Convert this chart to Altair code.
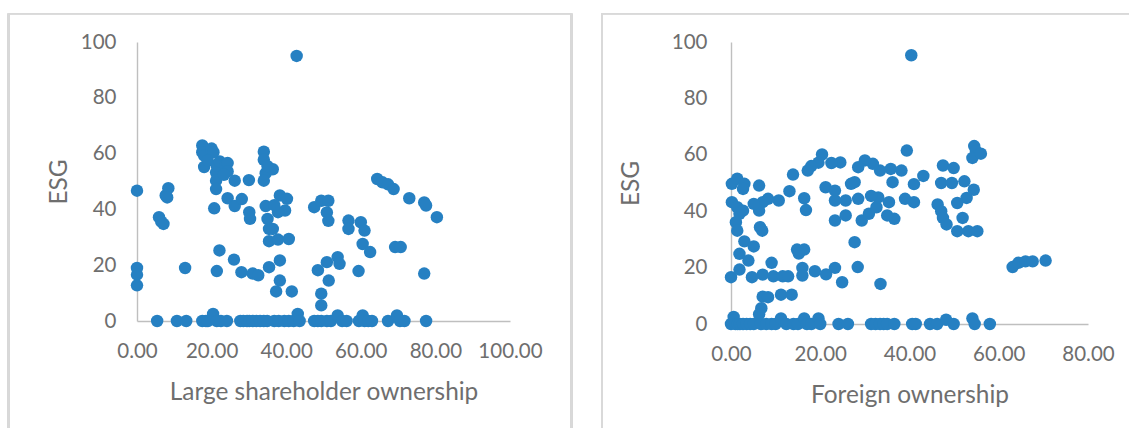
import altair as alt
import pandas as pd

# Left panel: Large shareholder ownership vs ESG
large_x = [42.8, 0, 0, 0, 0, 5.9, 6.5, 7.1, 7.7, 8.4, 8.1, 12.9,
           17.5, 17.5, 18, 18, 20, 20.5, 19, 21.2, 21.2, 21.2, 21.4, 20.7, 22.1, 21.4,
           22.2, 23.7, 24.3, 24.3, 23.3, 24.3, 26.2, 28.1, 26.2, 26, 28, 30, 30.1, 30.3,
           31, 32.5, 34, 34, 34.5, 34, 36.4, 35, 34.5, 35, 35.4, 36.4, 35.4, 35.4, 37.8,
           40.7, 38.3, 38.3, 37.3, 38.3, 40.2, 39.7, 37.8, 36.8, 41.5, 47.5, 49.4, 51.3,
           50.9, 51.3, 48.5, 50.9, 53.8, 54.3, 51.4, 49.4, 49.4, 56.7, 56.7, 60, 61, 60.5,
           62.5, 59.4, 64.4, 65.8, 67.3, 68.8, 73, 77, 77.5, 80.4, 69.2, 70.7, 77,
           5.4, 10.7, 13.2, 17.5, 18.5, 19, 20.4, 21.4, 22.5, 24.1, 27.7, 28.5, 29.5, 30.1,
           31, 32, 33, 34, 34.9, 36.8, 38, 39.5, 40.7, 42, 43.1, 43.6, 47.5, 48.5, 49.4,
           50.9, 52, 53.8, 55, 56.2, 59.5, 60.5, 61, 62, 63, 67.3, 69.7, 70.5, 71.7, 77.5]
large_y = [95, 46.7, 19, 16.6, 12.8, 37.2, 35.6, 34.8, 45, 47.6, 44.3, 19,
           62.9, 60.5, 59.3, 55.2, 61.8, 60.5, 57.5, 53.3, 50.3, 47.3, 55.7, 40.4, 25.3, 17.9,
           57.2, 56, 56.6, 53.6, 52.4, 44, 41.2, 43.7, 50.3, 22, 17.5, 50.5, 39, 36.6,
           17, 16.4, 60.7, 57.8, 53, 50.3, 54.4, 55.5, 41.2, 36.6, 33, 33, 19.3, 28.6, 29.2,
           29.4, 21.7, 14.5, 10.6, 45, 43.8, 39.6, 39, 41.5, 10.6, 40.8, 43.1, 43.1,
           38.9, 35.9, 18.2, 21.1, 22.9, 20.5, 14.5, 9.8, 5.6, 36, 33, 35.4, 32.4, 27.6,
           24.7, 17.9, 50.9, 49.7, 49, 47.3, 44, 42.5, 41.4, 37.2, 26.5, 26.5, 17,
           0, 0, 0, 0, 0, 0, 2.5, 0, 0, 0, 0, 0, 0, 0,
           0, 0, 0, 0, 0, 0, 0, 0, 0, 0, 2.5, 0, 0, 0, 0,
           0, 0, 2, 0, 0, 0, 2, 0, 0, 0, 0, 2, 0, 0, 0]

# Right panel: Foreign ownership vs ESG
foreign_x = [40.4, 39.4, 54.5, 54.9, 54.1, 56, 47.5, 49.9, 52.3, 54.4, 52.8, 50.7, 47.1, 49.5,
             46.3, 47.1, 47.5, 48.3, 50.7, 53.2, 55.2, 51.9, 43.1, 41, 41, 39, 38.2, 35.8,
             36.2, 35.4, 36.6, 35, 33.4, 31.8, 30, 28.5, 27.7, 26.9, 28.5, 25.7, 23.3, 23.3,
             25.7, 29.3, 30.9, 32.6, 33, 31.4, 24.5, 22.5, 20.4, 19.6, 18, 17.2, 21.2, 23.3,
             16.4, 16.8, 13.9, 13.1, 10.7, 8.3, 7.1, 6.3, 5.1, 6.5, 7.0, 6.3, 0.2, 1.4, 3.0,
             2.7, 0.2, 1.4, 1.9, 1.1, 1.4, 2.7, 3, 5.1, 1.9, 3.9, 0, 1.9, 4.7, 7.1, 9.1, 9.5,
             11.6, 12.8, 14.8, 16.4, 15.2, 16, 18.8, 16, 21.3, 23.3, 24.9, 27.7, 28.4, 33.5,
             7.1, 8.3, 6.8, 6.3, 11.2, 13.6, 63.1, 64.4, 66, 67.6, 70.5,
             0, 0.6, 1, 1.5, 2, 2.7, 3.5, 4.3, 5.1, 6.7, 7.9, 9.1, 10, 11.2, 12.4, 14, 15,
             16.4, 17, 18, 19.6, 20, 24.1, 26.2, 31.4, 32.4, 33.4, 34.2, 35, 36.6, 40.6,
             41.4, 44.6, 46.2, 48.2, 49.9, 54.1, 54.6, 58]
foreign_y = [95.3, 61.5, 63.1, 61.3, 58.9, 60.4, 56.2, 55.3, 50.6, 47.6, 44.7, 42.9, 50, 50,
             42.4, 40, 37.6, 35.3, 32.9, 32.9, 32.9, 37.6, 52.5, 49.6, 43.2, 44.4, 54.4, 55,
             50.3, 43.2, 37.3, 38.5, 54.4, 56.8, 58, 55.6, 50.3, 49.7, 44.4, 43.8, 43.8, 36.7,
             38.5, 36.7, 39.1, 41.4, 44.9, 45.4, 57.3, 57.1, 60.1, 57.2, 56, 54.4, 48.5, 47.3,
             44.6, 40.4, 53, 47.1, 43.8, 44.4, 43.2, 40.2, 42.6, 34.3, 33.1, 49.1, 49.7, 51.5, 49.7,
             47.9, 43.2, 41.4, 39.1, 36.1, 33.1, 40.2, 29.3, 27.5, 24.9, 22.5, 16.6, 19.3, 16.6, 17.5, 21.7, 16.9,
             16.9, 16.9, 26.4, 26.4, 25, 19.9, 18.7, 17.2, 17.6, 19.9, 14.8, 29, 20.2, 14.2,
             9.7, 9.5, 5.6, 3.5, 10.4, 10.4, 20.2, 21.7, 22.2, 22.2, 22.5,
             0, 2.5, 0, 0, 0, 0, 0, 0, 0, 0, 0, 0, 0, 2, 0, 0, 0,
             2, 0, 0, 2, 0, 0, 0, 0, 0, 0, 0, 0, 0, 0,
             0, 0, 0, 1.5, 0, 2, 0, 0]

x_ticks_large = [0, 20, 40, 60, 80, 100]
x_ticks_foreign = [0, 20, 40, 60, 80]
y_ticks = [0, 20, 40, 60, 80, 100]

BLUE = "#2680C2"
FRAME = "#D9D9D9"
TEXT = "#6E6E6E"

large_df = pd.DataFrame({"x": large_x, "y": large_y})
foreign_df = pd.DataFrame({"x": foreign_x, "y": foreign_y})


def panel(df, xmax, xticks, xtitle, w, h, frame_left, frame_right, extra_top, draw_right,
          y_label_pad, y_title_pad):
    pts = alt.Chart(df).mark_circle(size=155, opacity=1, color=BLUE).encode(
        x=alt.X("x:Q", title=xtitle,
                scale=alt.Scale(domain=[0, xmax], nice=False, zero=True),
                axis=alt.Axis(values=xticks, format=".2f", labelPadding=20, titlePadding=19)),
        y=alt.Y("y:Q", title="ESG",
                scale=alt.Scale(domain=[0, 100], nice=False),
                axis=alt.Axis(values=y_ticks, format="d", labelPadding=y_label_pad,
                              titlePadding=y_title_pad)),
    )
    top = -28.5
    bottom = 431 - 43 - 2
    layers = [pts]
    layers.append(alt.Chart(df).mark_rule(color=FRAME, strokeWidth=1.25).encode(
        x=alt.value(frame_left), x2=alt.value(frame_right), y=alt.value(top)))
    layers.append(alt.Chart(df).mark_rule(color=FRAME, strokeWidth=1.25).encode(
        x=alt.value(frame_left), y=alt.value(top), y2=alt.value(bottom)))
    if draw_right:
        layers.append(alt.Chart(df).mark_rule(color=FRAME, strokeWidth=1.25).encode(
            x=alt.value(frame_right), y=alt.value(top), y2=alt.value(bottom)))
    if extra_top is not None:
        layers.append(alt.Chart(df).mark_rule(color="#FFFFFF", strokeOpacity=0, strokeWidth=1.25).encode(
            x=alt.value(0), x2=alt.value(10), y=alt.value(extra_top)))
    return alt.layer(*layers).properties(width=w, height=h)


left = panel(large_df, 100, x_ticks_large, "Large shareholder ownership", 373, 279,
             -128.5, 434.5, -30.8, True, 21, 9)
right = panel(foreign_df, 80, x_ticks_foreign, "Foreign ownership", 357, 282,
              -129, 398, None, False, 24, 28)

chart = alt.hconcat(left, right, spacing=28).properties(
    padding={"left": 7, "top": 11, "right": 0, "bottom": 0}
).configure_view(stroke=None).configure_axis(
    grid=False, ticks=False, domainColor="#BFBFBF", domainWidth=1.4,
    labelColor=TEXT, titleColor=TEXT, labelFont="Lato", titleFont="Lato",
    labelFontSize=20.5, titleFontSize=24.4, titleFontWeight="normal",
    labelFlush=False, labelOverlap=False
)

chart.save("out.html", embed_options={"renderer": "svg", "actions": False})
